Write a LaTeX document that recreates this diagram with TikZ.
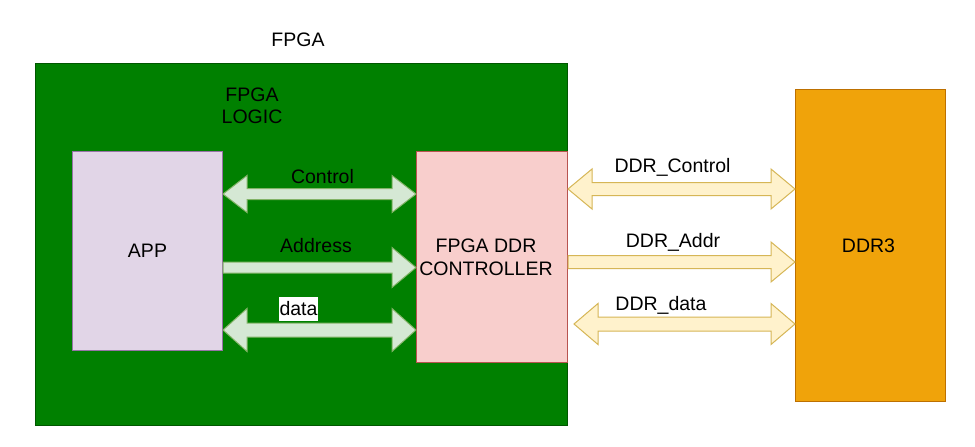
\documentclass[tikz,border=0pt]{standalone}
\usepackage{fontspec}
\setmainfont{Liberation Sans}
\usetikzlibrary{calc}
\definecolor{fgfill}{HTML}{008000}
\definecolor{fgdraw}{HTML}{005700}
\definecolor{appfill}{HTML}{E1D5E7}
\definecolor{appdraw}{HTML}{9673A6}
\definecolor{ctlfill}{HTML}{F8CECC}
\definecolor{ctldraw}{HTML}{B85450}
\definecolor{ddrfill}{HTML}{F0A30A}
\definecolor{ddrdraw}{HTML}{BD7000}
\definecolor{garfill}{HTML}{D5E8D4}
\definecolor{gardraw}{HTML}{82B366}
\definecolor{yarfill}{HTML}{FFF2CC}
\definecolor{yardraw}{HTML}{D6B656}
% double fat arrow: style, from, to, shaft half, head half
\newcommand\dblfat[5]{\filldraw[#1] let \p1=(#2), \p2=(#3) in
  (\x1,\y1) -- (\x1+24pt,\y1+#5pt) -- (\x1+24pt,\y1+#4pt) -- (\x2-24pt,\y1+#4pt)
  -- (\x2-24pt,\y1+#5pt) -- (\x2,\y1) -- (\x2-24pt,\y1-#5pt) -- (\x2-24pt,\y1-#4pt)
  -- (\x1+24pt,\y1-#4pt) -- (\x1+24pt,\y1-#5pt) -- cycle;}
% single fat arrow
\newcommand\sglfat[5]{\filldraw[#1] let \p1=(#2), \p2=(#3) in
  (\x1,\y1+#4pt) -- (\x2-24pt,\y1+#4pt) -- (\x2-24pt,\y1+#5pt) -- (\x2,\y1)
  -- (\x2-24pt,\y1-#5pt) -- (\x2-24pt,\y1-#4pt) -- (\x1,\y1-#4pt) -- cycle;}
\begin{document}
\begin{tikzpicture}[x=1pt,y=-1pt,
  every node/.style={font=\fontsize{19.5}{22.5}\selectfont},
  box/.style={rectangle,anchor=north west,line width=1pt,inner sep=0pt,align=center},
  lbl/.style={inner sep=0pt,anchor=base},
  garrow/.style={fill=garfill,draw=gardraw,line width=1pt,line join=miter},
  yarrow/.style={fill=yarfill,draw=yardraw,line width=1pt,line join=miter}]
\useasboundingbox[fill=white] (0,0) rectangle (975,447);
\node[box,fill=fgfill,draw=fgdraw,minimum width=532pt,minimum height=362pt] (fpga) at (35,63) {};
\node[box,fill=appfill,draw=appdraw,minimum width=150pt,minimum height=199pt] (app) at (72,151) {APP};
\node[box,fill=ctlfill,draw=ctldraw,minimum width=151pt,minimum height=211pt] (ctl) at (416,151) {};
\node[inner sep=0pt,align=center] (ctltxt) at ($(ctl.center)+(-6,0.5)$) {FPGA DDR\\CONTROLLER};
\node[box,fill=ddrfill,draw=ddrdraw,minimum width=150pt,minimum height=312pt] (ddr) at (795,89) {};
\node[inner sep=0pt] (ddrtxt) at ($(ddr.center)+(-2,0.5)$) {DDR3};
\node[lbl] (fpgat) at (298,46) {FPGA};
\node[inner sep=0pt,align=center] (logic) at (252,106) {FPGA\\LOGIC};
% green arrows
\dblfat{garrow}{app.east |- 0,194}{ctl.west |- 0,194}{5.5}{18.5}
\sglfat{garrow}{app.east |- 0,267.5}{ctl.west |- 0,267.5}{5.5}{20}
\dblfat{garrow}{app.east |- 0,330}{ctl.west |- 0,330}{7}{21.5}
\node[lbl] (lctl) at (322.5,183) {Control};
\node[lbl] (ladr) at (316,252) {Address};
\node[lbl,fill=white,inner sep=0.5pt,text height=17.5pt,text depth=5.5pt] (ldat) at (298.5,315) {data};
% yellow arrows
\dblfat{yarrow}{ctl.east |- 0,189}{ddr.west |- 0,189}{6.5}{20}
\sglfat{yarrow}{ctl.east |- 0,262}{ddr.west |- 0,262}{6.5}{20}
\dblfat{yarrow}{[xshift=6pt]ctl.east |- 0,324}{ddr.west |- 0,324}{7}{20.5}
\node[lbl] (ldc) at (672.5,172) {DDR\_Control};
\node[lbl] (lda) at (673,247) {DDR\_Addr};
\node[lbl] (ldd) at (661,310) {DDR\_data};
\end{tikzpicture}
\end{document}
